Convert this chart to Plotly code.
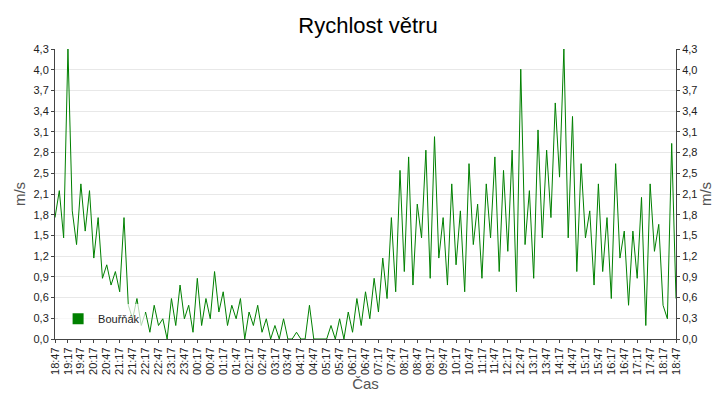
import plotly.graph_objects as go
import pandas as pd

start = "2023-01-01 18:47"
values = [1.8,2.2,1.5,4.3,1.9,1.4,2.3,
          1.6,2.2,1.2,1.8,0.9,1.1,
          0.8,1.0,0.7,1.8,0.5,0.3,
          0.6,0.2,0.4,0.1,0.5,0.2,
          0.3,0.0,0.6,0.2,0.8,0.3,
          0.5,0.1,0.9,0.2,0.6,0.3,
          1.0,0.4,0.7,0.2,0.5,0.3,
          0.6,0.0,0.4,0.2,0.5,0.1,
          0.3,0.0,0.2,0.0,0.3,0.0,
          0.0,0.1,0.0,0.0,0.5,0.0,
          0.0,0.0,0.0,0.2,0.0,0.3,
          0.0,0.4,0.1,0.6,0.2,0.7,
          0.3,0.9,0.4,1.2,0.6,1.8,
          0.7,2.5,1.0,2.7,0.8,2.0,
          1.5,2.8,0.9,3.0,1.2,1.8,
          0.8,2.3,1.1,1.9,0.7,2.6,
          1.4,2.0,0.9,2.3,1.5,2.7,
          1.0,2.5,1.3,2.8,0.7,4.0,
          1.4,2.2,0.9,3.1,1.5,2.8,
          1.8,3.5,2.4,4.3,1.5,3.3,
          1.0,2.6,1.5,1.9,0.8,2.3,
          1.0,1.8,0.6,2.6,1.2,1.6,
          0.5,1.6,0.9,2.1,0.2,2.3,
          1.3,1.7,0.5,0.3,2.9,0.6]
times = pd.date_range(start, periods=len(values), freq="10min")
tick_times = pd.date_range(start, periods=49, freq="30min")
tick_labels = [t.strftime("%H:%M") for t in tick_times]
y_max = 4.3
y_count = 14
y_ticks = [y_max * i / y_count for i in range(y_count + 1)]
y_labels = [f"{v:.1f}".replace(".", ",") for v in y_ticks]
green = "#008000"

fig = go.Figure()
fig.add_trace(go.Scatter(x=times, y=values, mode="lines", line=dict(color=green, width=1), showlegend=False))
fig.add_trace(go.Scatter(x=[times[0]], y=[None], mode="markers", name="Bouřňák",
                         marker=dict(symbol="square", size=11, color=green)))
fig.add_trace(go.Scatter(x=[times[0]], y=[None], yaxis="y2", showlegend=False, mode="lines"))
axis_common = dict(range=[0, y_max], tickvals=y_ticks, ticktext=y_labels, showline=True,
                   linecolor="#444", ticks="outside", ticklen=3, tickfont=dict(size=11))
fig.update_layout(
    width=720, height=400, plot_bgcolor="white", paper_bgcolor="white",
    font=dict(family="Liberation Sans, Arial", color="#222"),
    margin=dict(l=47, r=52, t=41, b=69, autoexpand=False),
    title=dict(text="Rychlost větru", x=0.5, y=0.975, yanchor="top", automargin=False,
               font=dict(size=22, color="black")),
    xaxis=dict(range=[times[0], times[-1]], tickvals=list(tick_times), ticktext=tick_labels,
               tickangle=-90, tickfont=dict(size=11), showline=True, linecolor="#444",
               ticks="outside", ticklen=3, showgrid=False, automargin=False,
               title=dict(text="Čas", font=dict(size=15, color="#555"), standoff=4)),
    yaxis=dict(**axis_common, gridcolor="#e8e8e8", automargin=False,
               title=dict(text="m/s", font=dict(size=15, color="#555"), standoff=4)),
    yaxis2=dict(**axis_common, overlaying="y", side="right", showgrid=False, automargin=False,
                title=dict(text="m/s", font=dict(size=15, color="#555"), standoff=4)),
    legend=dict(x=0.005, y=0.02, xanchor="left", yanchor="bottom", bgcolor="rgba(255,255,255,0.7)",
                font=dict(size=11), itemwidth=30),
)
fig.write_html("out.html")
